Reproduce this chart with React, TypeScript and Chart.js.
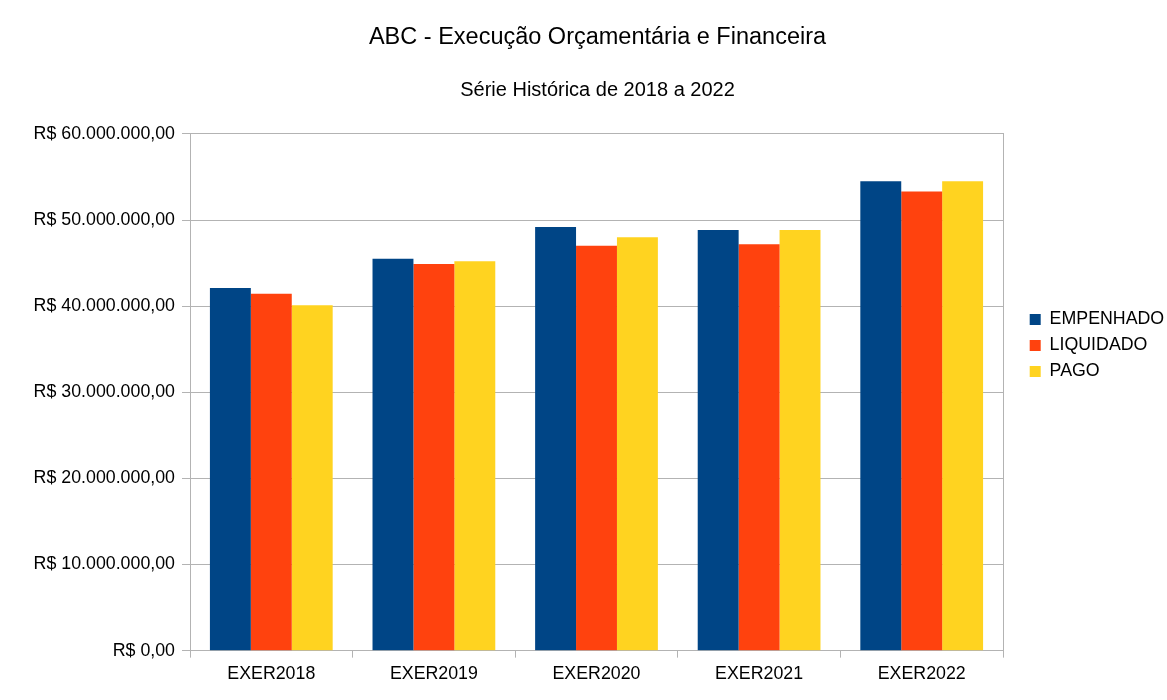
import React, { useEffect, useRef } from "react";
import { Chart, registerables } from "chart.js";

Chart.register(...registerables);

const categories = ["EXER2018", "EXER2019", "EXER2020", "EXER2021", "EXER2022"];
const empenhado = [42100000, 45500000, 49200000, 48850000, 54500000];
const liquidado = [41450000, 44900000, 47000000, 47200000, 53300000];
const pago = [40100000, 45200000, 48000000, 48850000, 54500000];
const seriesNames = ["EMPENHADO", "LIQUIDADO", "PAGO"];
const seriesColors = ["#004586", "#ff420e", "#ffd320"];
const titleText = "ABC - Execução Orçamentária e Financeira";
const subtitleText = "Série Histórica de 2018 a 2022";
const yMax = 60000000;
const yStep = 10000000;

const FONT = "'Liberation Sans', Arial, sans-serif";

function formatBRL(v: number): string {
  const intPart = Math.floor(Math.abs(v)).toString().replace(/\B(?=(\d{3})+(?!\d))/g, ".");
  const cents = Math.round((Math.abs(v) % 1) * 100).toString().padStart(2, "0");
  return "R$ " + intPart + "," + cents;
}

export default function App() {
  const ref = useRef<HTMLCanvasElement | null>(null);

  useEffect(() => {
    if (!ref.current) return;
    const chart = new Chart(ref.current, {
      type: "bar",
      data: {
        labels: categories,
        datasets: [empenhado, liquidado, pago].map((d, i) => ({
          label: seriesNames[i],
          data: d,
          backgroundColor: seriesColors[i],
          borderWidth: 0,
          categoryPercentage: 0.755,
          barPercentage: 1.0,
        })),
      },
      options: {
        responsive: false,
        animation: false,
        devicePixelRatio: 1,
        layout: { padding: { left: 28, right: 0, top: 0, bottom: 9 } },
        plugins: {
          title: {
            display: true,
            text: titleText,
            color: "#000",
            font: { family: FONT, size: 23.5, weight: "normal" },
            padding: { top: 23, bottom: 0 },
          },
          subtitle: {
            display: true,
            text: subtitleText,
            color: "#000",
            font: { family: FONT, size: 20, weight: "normal" },
            padding: { top: 27, bottom: 31.7 },
          },
          legend: {
            display: true,
            position: "right",
            maxWidth: 145.5,
            labels: {
              color: "#000",
              font: { family: FONT, size: 17.8 },
              boxWidth: 11,
              boxHeight: 11,
              padding: 8.2,
            },
          },
          tooltip: { enabled: false },
        },
        scales: {
          x: {
            grid: {
              offset: true,
              drawOnChartArea: false,
              drawTicks: true,
              tickLength: 7,
              color: "#b3b3b3",
            },
            border: { display: true, color: "#b3b3b3" },
            ticks: {
              color: "#000",
              font: { family: FONT, size: 17.8 },
              padding: 6,
            },
          },
          y: {
            min: 0,
            max: yMax,
            afterFit: (scale: any) => {
              scale.width = 162;
            },
            grid: {
              color: "#b3b3b3",
              drawTicks: true,
              tickLength: 8,
            },
            border: { display: true, color: "#b3b3b3" },
            ticks: {
              stepSize: yStep,
              color: "#000",
              font: { family: FONT, size: 17.8 },
              padding: 7,
              callback: (v: any) => formatBRL(Number(v)),
            },
          },
          y2: {
            position: "right",
            min: 0,
            max: yMax,
            afterFit: (scale: any) => {
              scale.width = 18.5;
            },
            grid: { drawOnChartArea: false, drawTicks: false },
            border: { display: true, color: "#b3b3b3" },
            ticks: { display: false },
          },
        },
      },
    });
    return () => chart.destroy();
  }, []);

  return (
    <div style={{ position: "absolute", left: 0, top: 0, width: 1167, height: 700, background: "#fff" }}>
      <canvas ref={ref} width={1167} height={700} style={{ display: "block" }} />
    </div>
  );
}
